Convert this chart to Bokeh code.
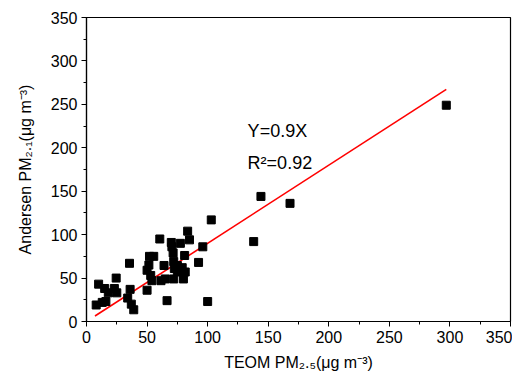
from bokeh.plotting import figure
from bokeh.models import Range1d, SingleIntervalTicker, Label
from bokeh.embed import file_html
from bokeh.resources import INLINE

teom = [8, 10, 13, 16, 15, 18, 23, 24.5, 25, 34, 35.5, 36, 37, 39,
        50, 50, 52, 55.5, 51.5, 53, 54, 60.5, 61.5, 64, 65, 66.5,
        70, 70.5, 71.5, 72, 72.5, 72, 75, 75, 77.5, 77.5, 79, 80, 81, 81.5,
        83.5, 85, 92.5, 96, 100, 103, 138, 144, 168, 297]
andersen = [19, 43, 22, 23, 38, 33, 38, 50, 33, 27, 67, 37, 20, 13.5,
            36, 59, 75, 75, 65, 53, 47, 95, 47, 64.5, 49, 24,
            91, 86, 79, 69, 61, 49, 64.5, 57, 90, 59, 62, 49, 76, 57,
            104, 94, 68, 86, 23, 117, 92, 144, 136, 249]
fit_x = [7, 297]
slope = 0.9
fit_y = [slope * v for v in fit_x]
ticks_interval = 50

FONT = "Liberation Sans"

p = figure(width=512, height=375, output_backend="svg", toolbar_location=None,
           x_range=Range1d(0, 350), y_range=Range1d(0, 350),
           min_border_left=86, min_border_right=2, min_border_top=17, min_border_bottom=54)

p.xgrid.visible = False
p.ygrid.visible = False
p.outline_line_color = "black"
p.outline_line_width = 1.2

for ax in (p.xaxis[0], p.yaxis[0]):
    ax.ticker = SingleIntervalTicker(interval=ticks_interval, num_minor_ticks=2)
    ax.major_label_text_font = FONT
    ax.major_label_text_font_size = "16px"
    ax.major_label_text_color = "black"
    ax.axis_label_text_font = FONT
    ax.axis_label_text_font_size = "16px"
    ax.axis_label_text_font_style = "normal"
    ax.axis_label_text_color = "black"
    ax.axis_line_color = "black"
    ax.axis_line_width = 1.2
    ax.major_tick_line_color = "black"
    ax.minor_tick_line_color = "black"
    ax.major_tick_in = 0
    ax.major_tick_out = 5
    ax.minor_tick_in = 0
    ax.minor_tick_out = 3
    ax.major_label_standoff = 4

p.xaxis.axis_label = "TEOM PM\u2082.\u2085(\u03bcg m\u207b\u00b3)"
p.yaxis.axis_label = "Andersen PM\u2082.\u2081(\u03bcg m\u207b\u00b3)"
p.xaxis.axis_label_standoff = 8
p.yaxis.axis_label_standoff = 14

p.line(fit_x, fit_y, line_color="red", line_width=1.6)
p.scatter(teom, andersen, marker="square", size=8, fill_color="black", line_color="black")

p.add_layout(Label(x=133, y=219, x_units="data", y_units="data",
                   text="Y=0.9X", text_font=FONT, text_font_size="18px",
                   text_color="black", text_baseline="alphabetic"))
p.add_layout(Label(x=133, y=183, x_units="data", y_units="data",
                   text="R\u00b2=0.92", text_font=FONT, text_font_size="18px",
                   text_color="black", text_baseline="alphabetic"))

open("out.html", "w").write(file_html(p, INLINE))
